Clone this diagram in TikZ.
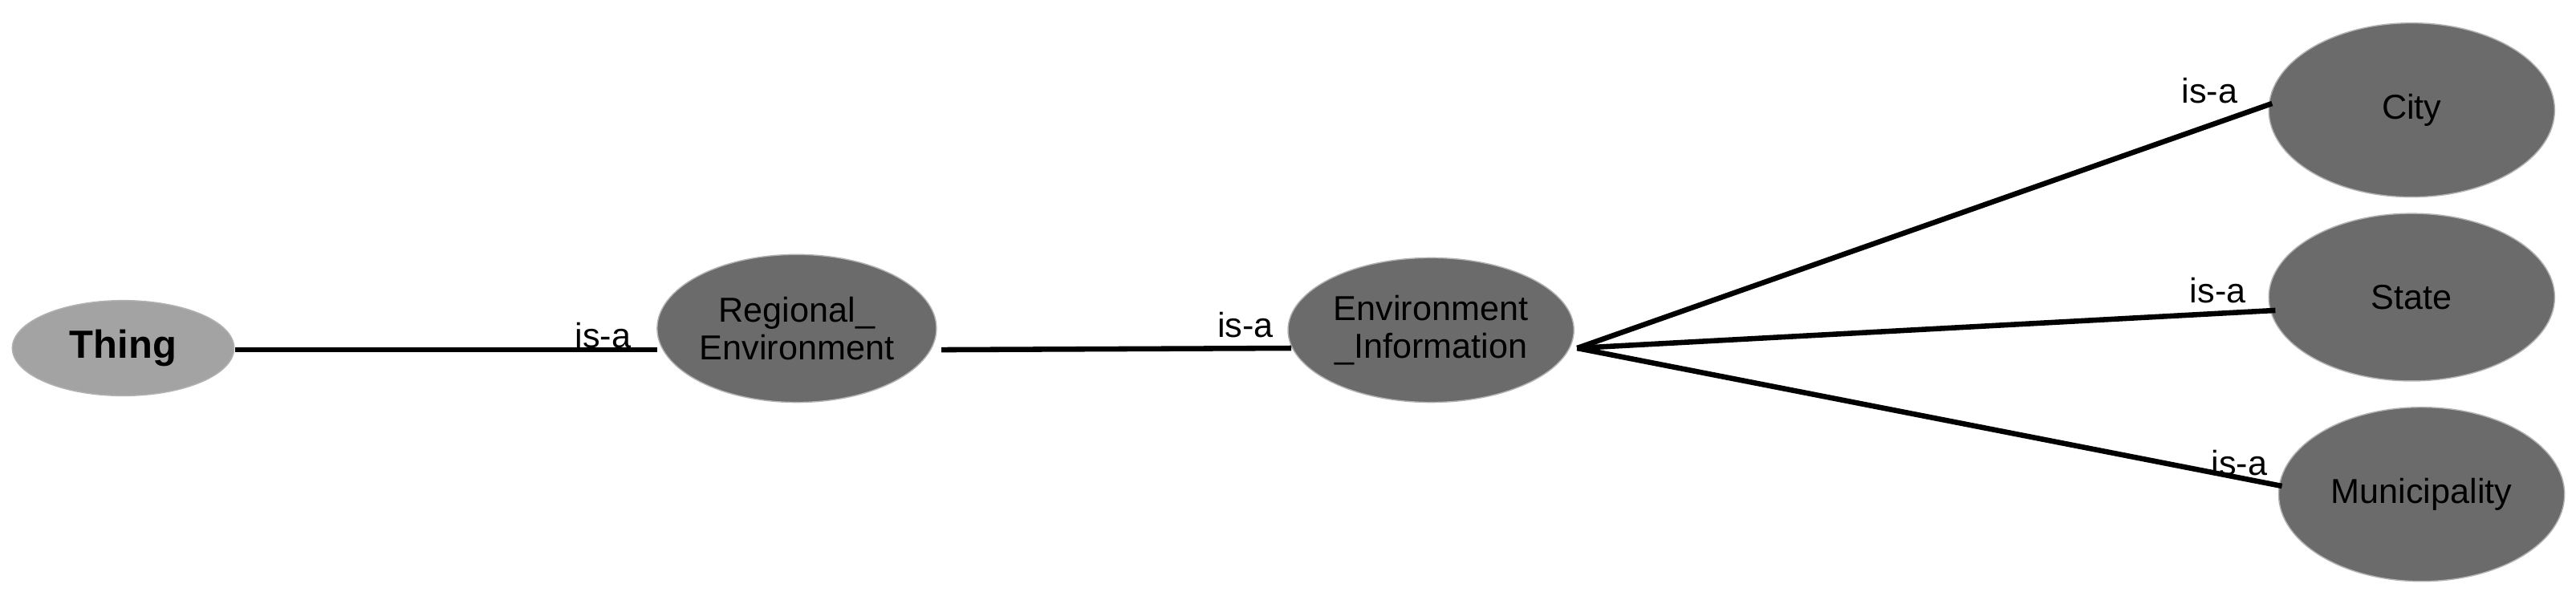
\documentclass[tikz,border=0pt]{standalone}
\usepackage{fontspec}
\setmainfont{Liberation Sans}
\usetikzlibrary{shapes.geometric}
\begin{document}
\begin{tikzpicture}[x=0.5mm,y=-0.5mm,
  cls/.style={ellipse,draw=gray!60,line width=1pt,fill=black!58,inner sep=0pt,align=center,font=\fontsize{30}{33}\selectfont},
  edge/.style={line width=1.6mm},
  lbl/.style={font=\fontsize{30}{33}\selectfont,inner sep=0pt}]
\useasboundingbox (0,0) rectangle (1568,365);
\node[cls,fill=black!36,minimum width=135\pgflinewidth*0+67.5mm,minimum height=29mm,font=\fontsize{34}{36}\selectfont\bfseries] (thing) at (75,212) {Thing};
\node[cls,minimum width=85mm,minimum height=45mm] (reg) at (485,200) {Regional\_\\Environment};
\node[cls,minimum width=87mm,minimum height=44mm] (ei) at (871,201) {Environment\\\_Information};
\node[cls,minimum width=87mm,minimum height=53mm] (city) at (1468,67) {City};
\node[cls,minimum width=87mm,minimum height=51mm] (state) at (1468,181) {State};
\node[cls,minimum width=87mm,minimum height=53mm] (mun) at (1474,301) {Municipality};
\coordinate (t1) at (143,213);
\coordinate (r0) at (400,213);
\coordinate (r1) at (573,213);
\coordinate (e0) at (786,212);
\coordinate (hub) at (960,212);
\draw[edge] (t1) -- (r0);
\draw[edge] (r1) -- (e0);
\draw[edge] (hub) -- (1383,63);
\draw[edge] (hub) -- (1385,189);
\draw[edge] (hub) -- (1389,296);
\node[lbl] (l1) at (367,204) {is-a};
\node[lbl] (l2) at (758,198) {is-a};
\node[lbl] (l3) at (1345,55) {is-a};
\node[lbl] (l4) at (1350,177) {is-a};
\node[lbl] (l5) at (1363,282) {is-a};
\end{tikzpicture}
\end{document}
